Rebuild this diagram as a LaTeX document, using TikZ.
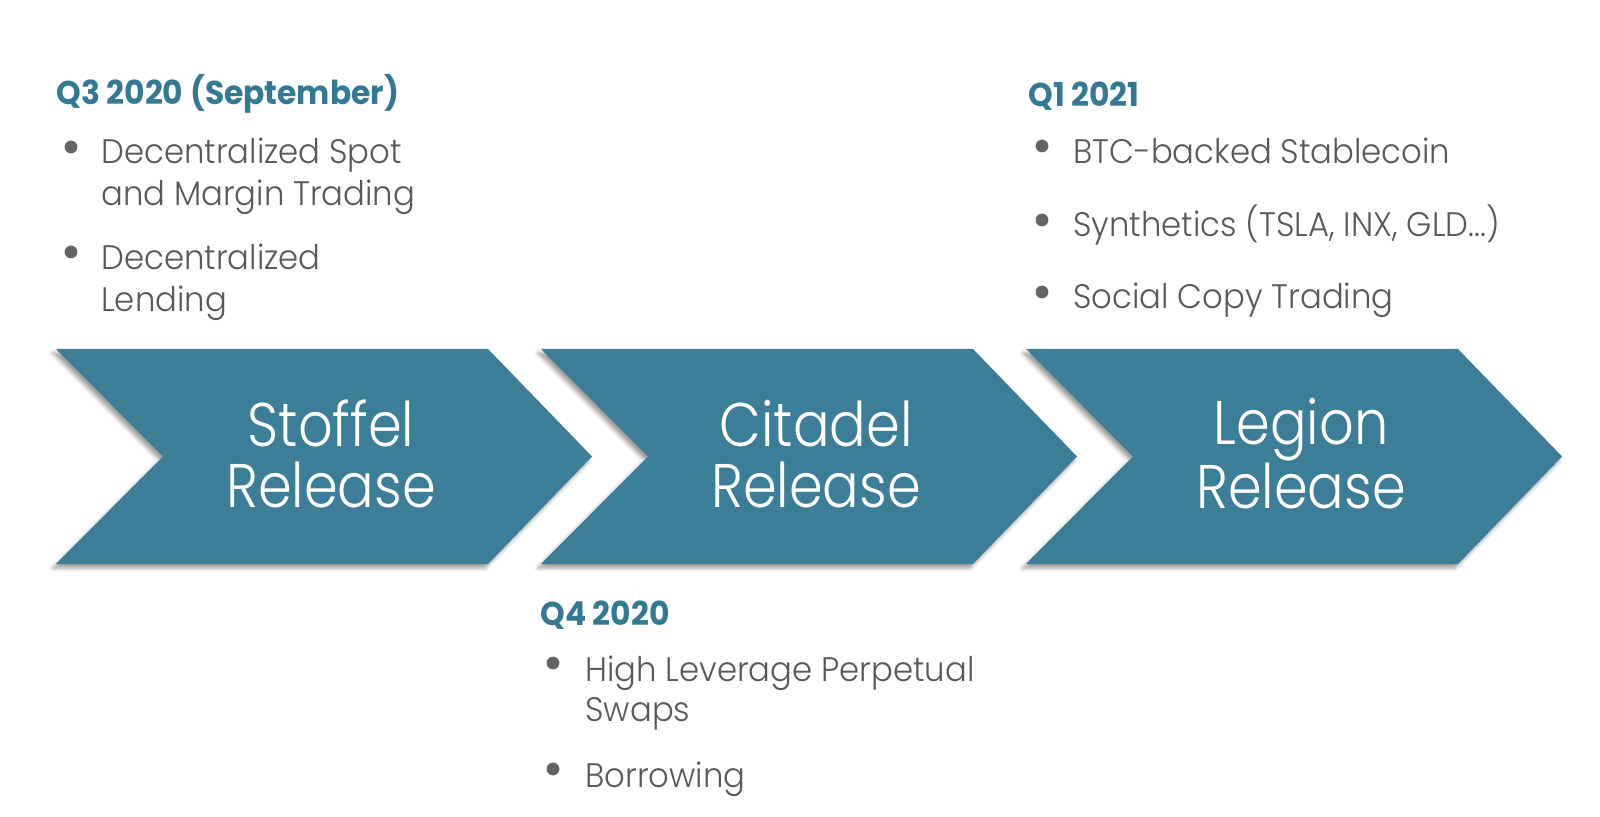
\documentclass[tikz,border=0pt]{standalone}
\usepackage{fontspec}
\setmainfont{Poppins}[UprightFont=* Light, BoldFont=* Bold, FakeStretch=0.95]
\newfontfamily\relfont{Poppins}[UprightFont=* Light, FakeStretch=0.88]
\usetikzlibrary{shadows.blur}

\definecolor{relteal}{RGB}{60,125,151}
\definecolor{headteal}{RGB}{52,121,148}
\definecolor{itemgray}{RGB}{89,89,89}
\definecolor{dotgray}{RGB}{100,100,100}

\tikzset{
  release/.style={fill=relteal,
    blur shadow={shadow xshift=-1.5pt, shadow yshift=-2pt,
                 shadow blur radius=2pt, shadow opacity=40}},
  reltext/.style={text=white, align=center, inner sep=0pt,
    font=\relfont\fontsize{30.8}{30.5}\selectfont},
  phase/.style={anchor=base west, inner sep=0pt, text=headteal,
    font=\fontsize{16.5}{20}\selectfont\bfseries},
  item/.style={anchor=base west, inner sep=0pt, text=itemgray,
    font=\fontsize{17}{21}\selectfont},
}

\begin{document}
\begin{tikzpicture}[x=0.5pt,y=-0.5pt]
  \useasboundingbox (0,0) rectangle (1600,817);

  % release chevrons
  \foreach \i/\name/\title in {0/stoffel/Stoffel,1/citadel/Citadel,2/legion/Legion} {
    \pgfmathsetmacro{\x}{56+485*\i}
    \fill[release] (\x,349) -- ++(432,0) -- ++(104,107.5) -- ++(-104,107.5)
      -- ++(-432,0) -- ++(107,-107.5) -- cycle;
    \node[reltext] (\name) at (\x+275,454) {\title\\Release};
  }

  % Q3 2020
  \node[phase] (q3) at (56,105) {Q3 2020 (September)};
  \fill[dotgray] (71,147) circle (3.2pt);
  \node[item] (spot) at (101,164) {Decentralized Spot};
  \node[item] (margin) at (101,206) {and Margin Trading};
  \fill[dotgray] (71,252) circle (3.2pt);
  \node[item] (lend) at (101,270) {Decentralized};
  \node[item] (lendb) at (101,312) {Lending};

  % Q4 2020
  \node[phase] (q4) at (540,625) {Q4 2020};
  \fill[dotgray] (553,663) circle (3.2pt);
  \node[item] (swap) at (585,681) {High Leverage Perpetual};
  \node[item] (swapb) at (585,721) {Swaps};
  \fill[dotgray] (553,769) circle (3.2pt);
  \node[item] (borrow) at (585,787) {Borrowing};

  % Q1 2021
  \node[phase] (q1) at (1028,107) {Q1 2021};
  \fill[dotgray] (1042,146) circle (3.2pt);
  \node[item] (stable) at (1073,164) {BTC-backed Stablecoin};
  \fill[dotgray] (1042,220) circle (3.2pt);
  \node[item] (synth) at (1073,237) {Synthetics (TSLA, INX, GLD...)};
  \fill[dotgray] (1042,292) circle (3.2pt);
  \node[item] (social) at (1073,309) {Social Copy Trading};
\end{tikzpicture}
\end{document}
